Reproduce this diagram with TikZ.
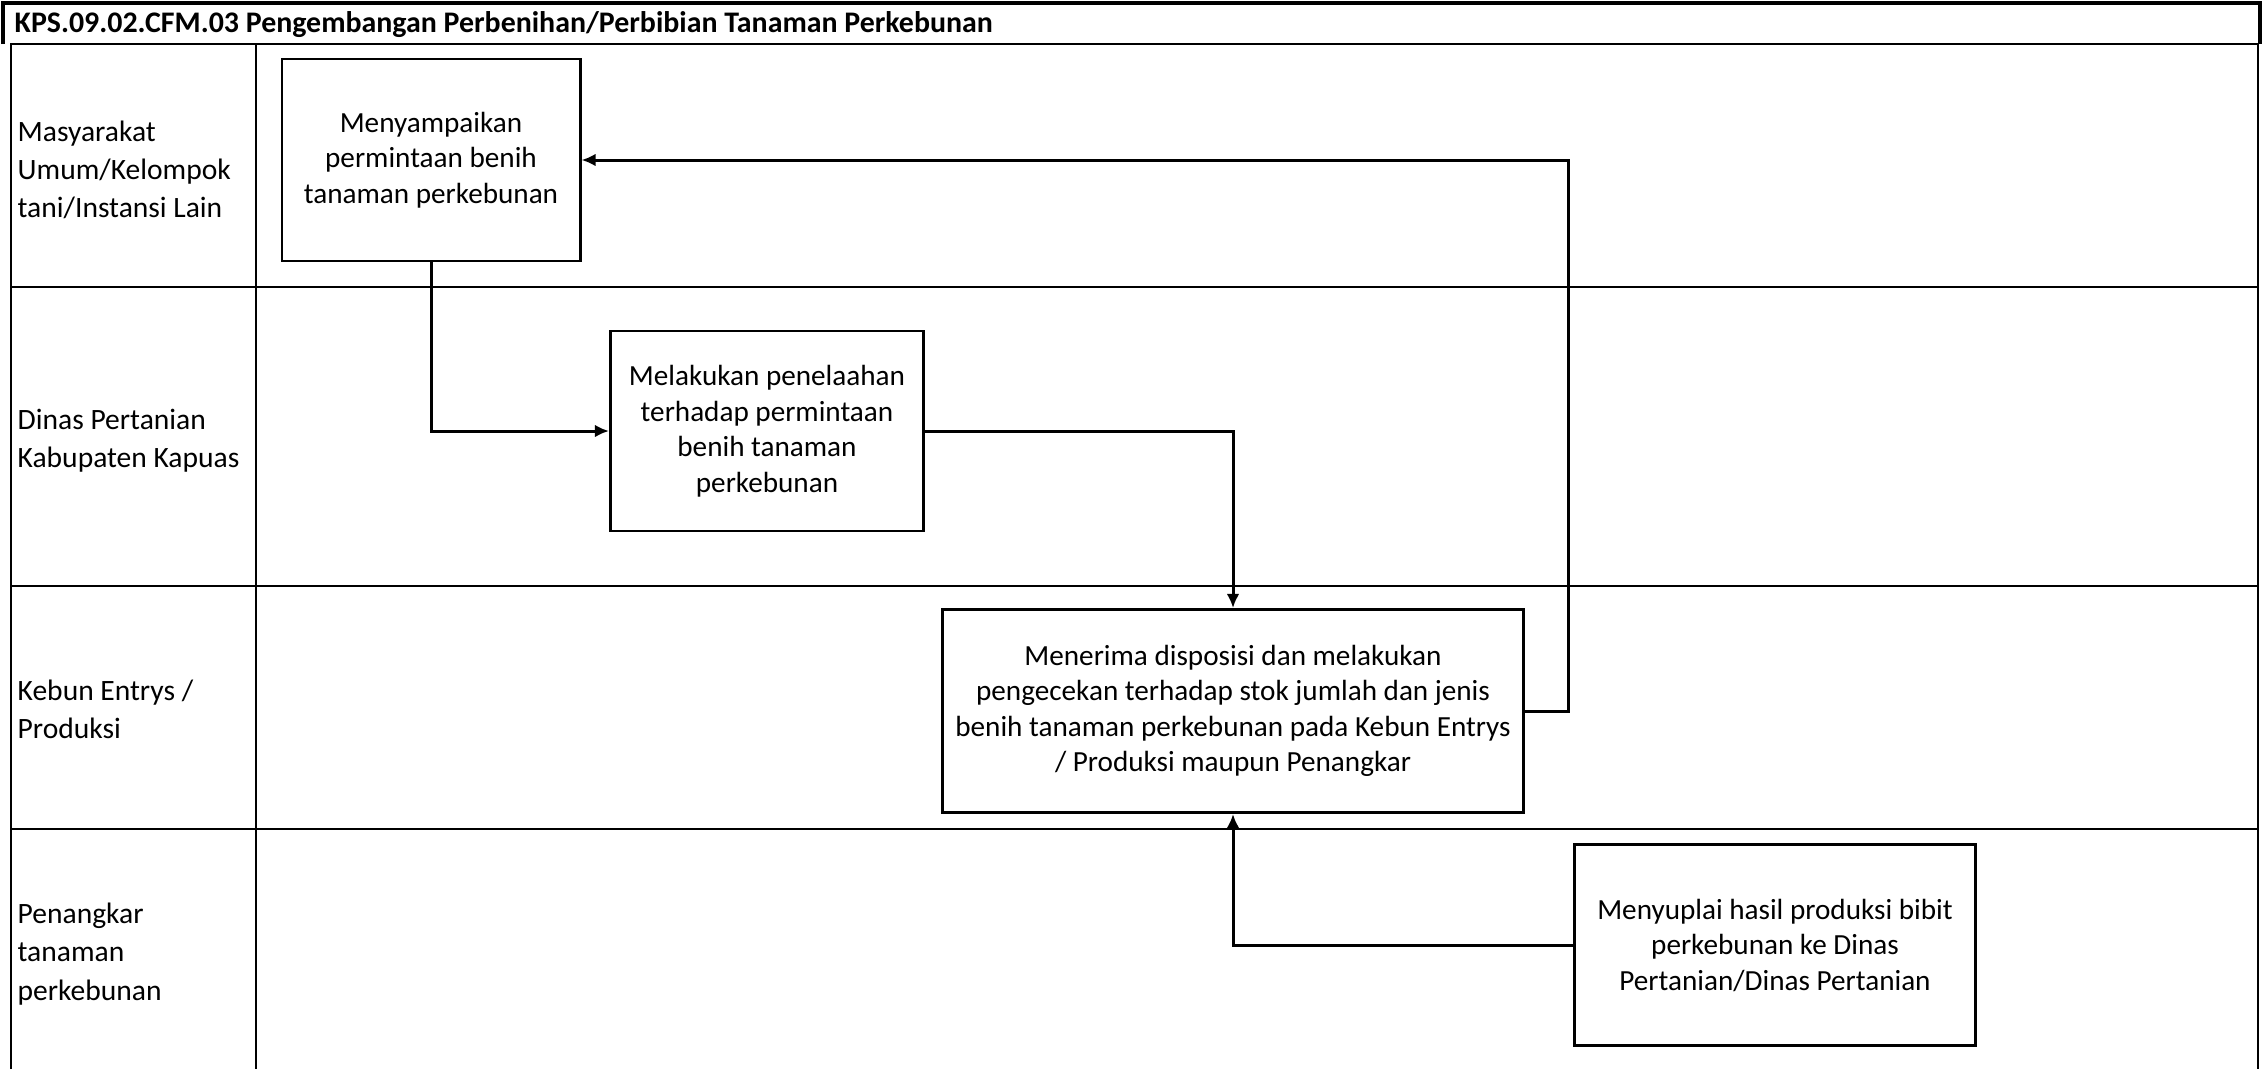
\documentclass[tikz,border=0pt]{standalone}
\usepackage{fontspec}
\setmainfont{Carlito}
\usetikzlibrary{arrows.meta}

\begin{document}
\begin{tikzpicture}[x=0.01cm,y=-0.01cm,
    lanetext/.style={anchor=west,align=left,inner sep=0pt,font=\fontsize{8.4}{10.9}\selectfont},
    procbox/.style={draw,line width=0.8pt,align=center,inner sep=0pt,font=\fontsize{8.3}{10.1}\selectfont},
    flow/.style={line width=0.85pt,-{Latex[length=4pt,width=3.6pt]}}]
    \useasboundingbox (0,0) rectangle (2264,1069);
    % title bar
    \draw[line width=0.9pt] (3,44) -- (3,3) -- (2260,3) -- (2260,44);
    \node[anchor=base west,inner sep=0pt,font=\bfseries\fontsize{8.5}{11}\selectfont] (title) at (14,32)
      {KPS.09.02.CFM.03 Pengembangan Perbenihan/Perbibian Tanaman Perkebunan};
    % swimlanes
    \draw[line width=0.8pt] (11,1069) -- (11,44) -- (2258,44) -- (2258,1069);
    \draw[line width=0.8pt] (256,44) -- (256,1069);
    \foreach \y in {287,586,829}
      \draw[line width=0.8pt] (11,\y) -- (2258,\y);
    \node[lanetext] (lane1) at (17,170) {Masyarakat\\Umum/Kelompok\\tani/Instansi Lain};
    \node[lanetext] (lane2) at (17,441) {Dinas Pertanian\\Kabupaten Kapuas};
    \node[lanetext] (lane3) at (17,709) {Kebun Entrys /\\Produksi};
    \node[lanetext] (lane4) at (17,954) {Penangkar\\tanaman\\perkebunan};
    % process boxes
    \node[procbox,minimum width=2.98cm,minimum height=2.02cm] (request) at (431,160)
      {Menyampaikan\\permintaan benih\\tanaman perkebunan};
    \node[procbox,minimum width=3.13cm,minimum height=2cm] (review) at (767,431)
      {Melakukan penelaahan\\terhadap permintaan\\benih tanaman\\perkebunan};
    \node[procbox,minimum width=5.8cm,minimum height=2.03cm] (check) at (1233,711)
      {Menerima disposisi dan melakukan\\pengecekan terhadap stok jumlah dan jenis\\benih tanaman perkebunan pada Kebun Entrys\\/ Produksi maupun Penangkar};
    \node[procbox,minimum width=4.01cm,minimum height=2.01cm] (supply) at (1775,945)
      {Menyuplai hasil produksi bibit\\perkebunan ke Dinas\\Pertanian/Dinas Pertanian};
    % flows
    \coordinate (back) at (1568,711);
    \draw[flow] (request.south) |- (review.west);
    \draw[flow] (review.east) -| (check.north);
    \draw[flow] (check.east) -- (back) |- (request.east);
    \draw[flow] (supply.west) -| (check.south);
\end{tikzpicture}
\end{document}
